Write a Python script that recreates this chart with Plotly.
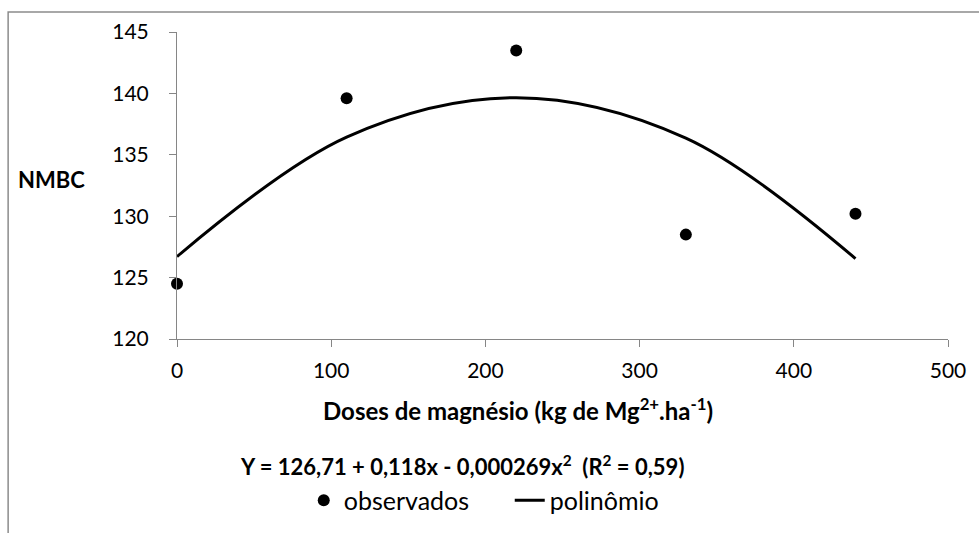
import plotly.graph_objects as go

# Doses of magnesium (kg/ha) and observed NMBC
doses = [0, 110, 220, 330, 440]
nmbc_obs = [124.5, 139.6, 143.5, 128.5, 130.2]

# Quadratic fit values at each dose: Y = 126,71 + 0,118x - 0,000269x²
nmbc_fit = [126.71, 136.44, 139.65, 136.36, 126.55]

x_ticks = [0, 100, 200, 300, 400, 500]
y_ticks = [120, 125, 130, 135, 140, 145]

FONT = "Lato"
AXIS_GRAY = "#868686"

fig = go.Figure()

fig.add_trace(go.Scatter(
    x=doses, y=nmbc_obs, mode="markers", name="observados",
    marker=dict(color="black", size=12, symbol="circle"),
    cliponaxis=False,
))
fig.add_trace(go.Scatter(
    x=doses, y=nmbc_fit, mode="lines", name="polinômio",
    line=dict(color="black", width=3, shape="spline", smoothing=1),
    cliponaxis=False,
))

fig.update_xaxes(
    range=[0, 500], tickvals=x_ticks, ticktext=[str(v) for v in x_ticks],
    showgrid=False, zeroline=False, showline=True, linecolor=AXIS_GRAY, linewidth=1,
    ticks="outside", ticklen=7, tickcolor=AXIS_GRAY, tickwidth=1,
    tickfont=dict(family=FONT, size=21, color="black"), ticklabelstandoff=6,
)
fig.update_yaxes(
    range=[120, 145], tickvals=y_ticks, ticktext=[str(v) for v in y_ticks],
    showgrid=False, zeroline=False, showline=True, linecolor=AXIS_GRAY, linewidth=1,
    ticks="outside", ticklen=7, tickcolor=AXIS_GRAY, tickwidth=1,
    tickfont=dict(family=FONT, size=21, color="black"), ticklabelstandoff=16,
)

PH = 307.5  # plot height in px
PW = 770.7  # plot width in px


def px_x(px):
    return (px - 177.3) / PW


def px_y(py):
    return (339.3 - py) / PH


annotations = [
    dict(text="NMBC", x=px_x(52), y=px_y(180), xanchor="center", yanchor="middle",
         font=dict(family=FONT, size=22, color="black", weight="bold")),
    dict(text="Doses de magnésio (kg de Mg<sup>2+</sup>.ha<sup>-1</sup>)",
         x=px_x(518), y=px_y(409), xanchor="center", yanchor="middle",
         font=dict(family=FONT, size=24, color="black", weight="bold")),
    dict(text="Y = 126,71 + 0,118x - 0,000269x<sup>2</sup>  (R<sup>2</sup> = 0,59)",
         x=px_x(462), y=px_y(466), xanchor="center", yanchor="middle",
         font=dict(family=FONT, size=22, color="black", weight="bold")),
]
for a in annotations:
    a.update(xref="paper", yref="paper", showarrow=False)

fig.update_layout(
    width=979, height=533,
    margin=dict(l=177, r=31, t=32, b=194, autoexpand=False),
    paper_bgcolor="white", plot_bgcolor="white",
    font=dict(family=FONT, color="black"),
    annotations=annotations,
    showlegend=True,
    legend=dict(
        orientation="h", x=px_x(304), y=px_y(501), xanchor="left", yanchor="middle",
        xref="paper", yref="paper",
        font=dict(family=FONT, size=25, color="black"),
        bgcolor="rgba(0,0,0,0)", itemwidth=30, tracegroupgap=0,
        entrywidth=161, entrywidthmode="pixels",
    ),
    shapes=[dict(
        type="rect", xref="paper", yref="paper",
        x0=px_x(8.5), x1=px_x(1000), y0=px_y(560), y1=px_y(11.7),
        line=dict(color="#8c8c8c", width=1.5), fillcolor="rgba(0,0,0,0)", layer="below",
    )],
)

fig.write_html("out.html")
